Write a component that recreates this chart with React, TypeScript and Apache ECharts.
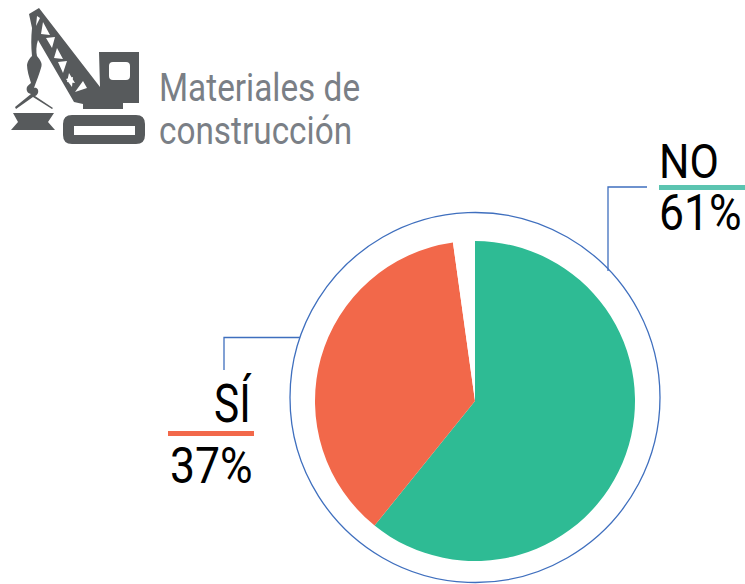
import React, { useEffect, useRef } from "react";
import * as echarts from "echarts";

const categories = ["NO", "SÍ", ""];
const values = [60.8, 37, 2.2];
const colors = ["#2EBB94", "#F2684A", "#FFFFFF"];
const percentLabels = ["61%", "37%"];
const titleLines = ["Materiales de", "construcción"];

const craneBody =
  "M29 14 L39 8 L100 87 L99 52 L139 52 L139 103 L123 103 L123 109 L83 109 L83 104 L74 102 L38 40 C36 46 36 52 37 56 C40 60 43 63 41 68 C39 75 36 82 34 88 C37 87 39 90 38 93 C37 95 36 96 35 96 L53 108 L52 109 L33 97 L16 109 L15 107 L31 94 C27 93 26 90 27 87 C28 85 30 84 31 83 C29 77 27 70 27 65 C28 60 30 58 32 56 C31 46 31 38 32 28 Z " +
  "M13 113 L54 113 L48 122 L55 130 L11 130 L18 122 Z " +
  "M72 115 L136 115 Q145 115 145 124 L145 135 Q145 144 136 144 L72 144 Q63 144 63 135 L63 124 Q63 115 72 115 Z";
const craneHoles =
  "M113 62 L126 62 Q130 62 130 66 L130 76 Q130 80 126 80 L113 80 Q109 80 109 76 L109 66 Q109 62 113 62 Z " +
  "M37 16 L40 18 L36 26 Z M43 22 L50 35 L41 34 Z M46 38 L55 37 L52 48 Z M57 48 L63 59 L54 58 Z " +
  "M58 62 L67 61 L63 73 Z M69 73 L75 83 L67 82 Z M75 92 L83 81 L87 88 Z M66 79 L73 77 L72 87 Z " +
  "M74 126 L135 126 L135 135 L74 135 Z";

echarts.graphic.registerShape("craneBody", echarts.graphic.extendPath(craneBody, {}) as any);
echarts.graphic.registerShape("craneHoles", echarts.graphic.extendPath(craneHoles, {}) as any);

function label(text: string, x: number, y: number, size: number, fill: string, scaleX: number) {
  return {
    type: "text",
    x,
    y,
    scaleX,
    style: { text, fill, fontFamily: "Roboto", fontSize: size, textAlign: "left", verticalAlign: "bottom" },
  };
}

export default function App() {
  const ref = useRef<HTMLDivElement>(null);
  useEffect(() => {
    document.body.style.margin = "0";
    const chart = echarts.init(ref.current!, null, { renderer: "svg" });
    const blue = "#3F6FBE";
    chart.setOption({
      animation: false,
      backgroundColor: "#FFFFFF",
      series: [
        {
          type: "pie",
          center: [475, 401],
          radius: [0, 160],
          startAngle: 90,
          clockwise: true,
          silent: true,
          label: { show: false },
          labelLine: { show: false },
          data: categories.map((name, i) => ({ name, value: values[i], itemStyle: { color: colors[i] } })),
        },
      ],
      graphic: [
        { type: "craneBody", x: 0, y: 0, style: { fill: "#575A5C" } },
        { type: "craneHoles", x: 0, y: 0, style: { fill: "#FFFFFF" } },
        { type: "circle", shape: { cx: 475, cy: 397.5, r: 185 }, style: { fill: "none", stroke: blue, lineWidth: 1.3 } },
        { type: "polyline", shape: { points: [[608, 271], [608, 187], [647, 187]] }, style: { fill: "none", stroke: blue, lineWidth: 1.3 } },
        { type: "polyline", shape: { points: [[224, 370], [224, 337.5], [300, 337.5]] }, style: { fill: "none", stroke: blue, lineWidth: 1.3 } },
        { type: "rect", shape: { x: 659, y: 185, width: 86, height: 5 }, style: { fill: "#5BC4B0" } },
        { type: "rect", shape: { x: 168, y: 431, width: 86, height: 5 }, style: { fill: "#F2684A" } },
        label(titleLines[0], 159, 107, 39, "#7A7F86", 0.855),
        label(titleLines[1], 159, 150, 39, "#7A7F86", 0.855),
        label(categories[0], 659, 186, 48, "#000000", 0.89),
        label(percentLabels[0], 659, 238, 50, "#000000", 0.89),
        label(categories[1], 214, 430, 53, "#000000", 0.8),
        label(percentLabels[1], 170, 491, 50, "#000000", 0.89),
      ],
    });
    return () => chart.dispose();
  }, []);
  return <div ref={ref} style={{ width: 745, height: 584 }} />;
}
